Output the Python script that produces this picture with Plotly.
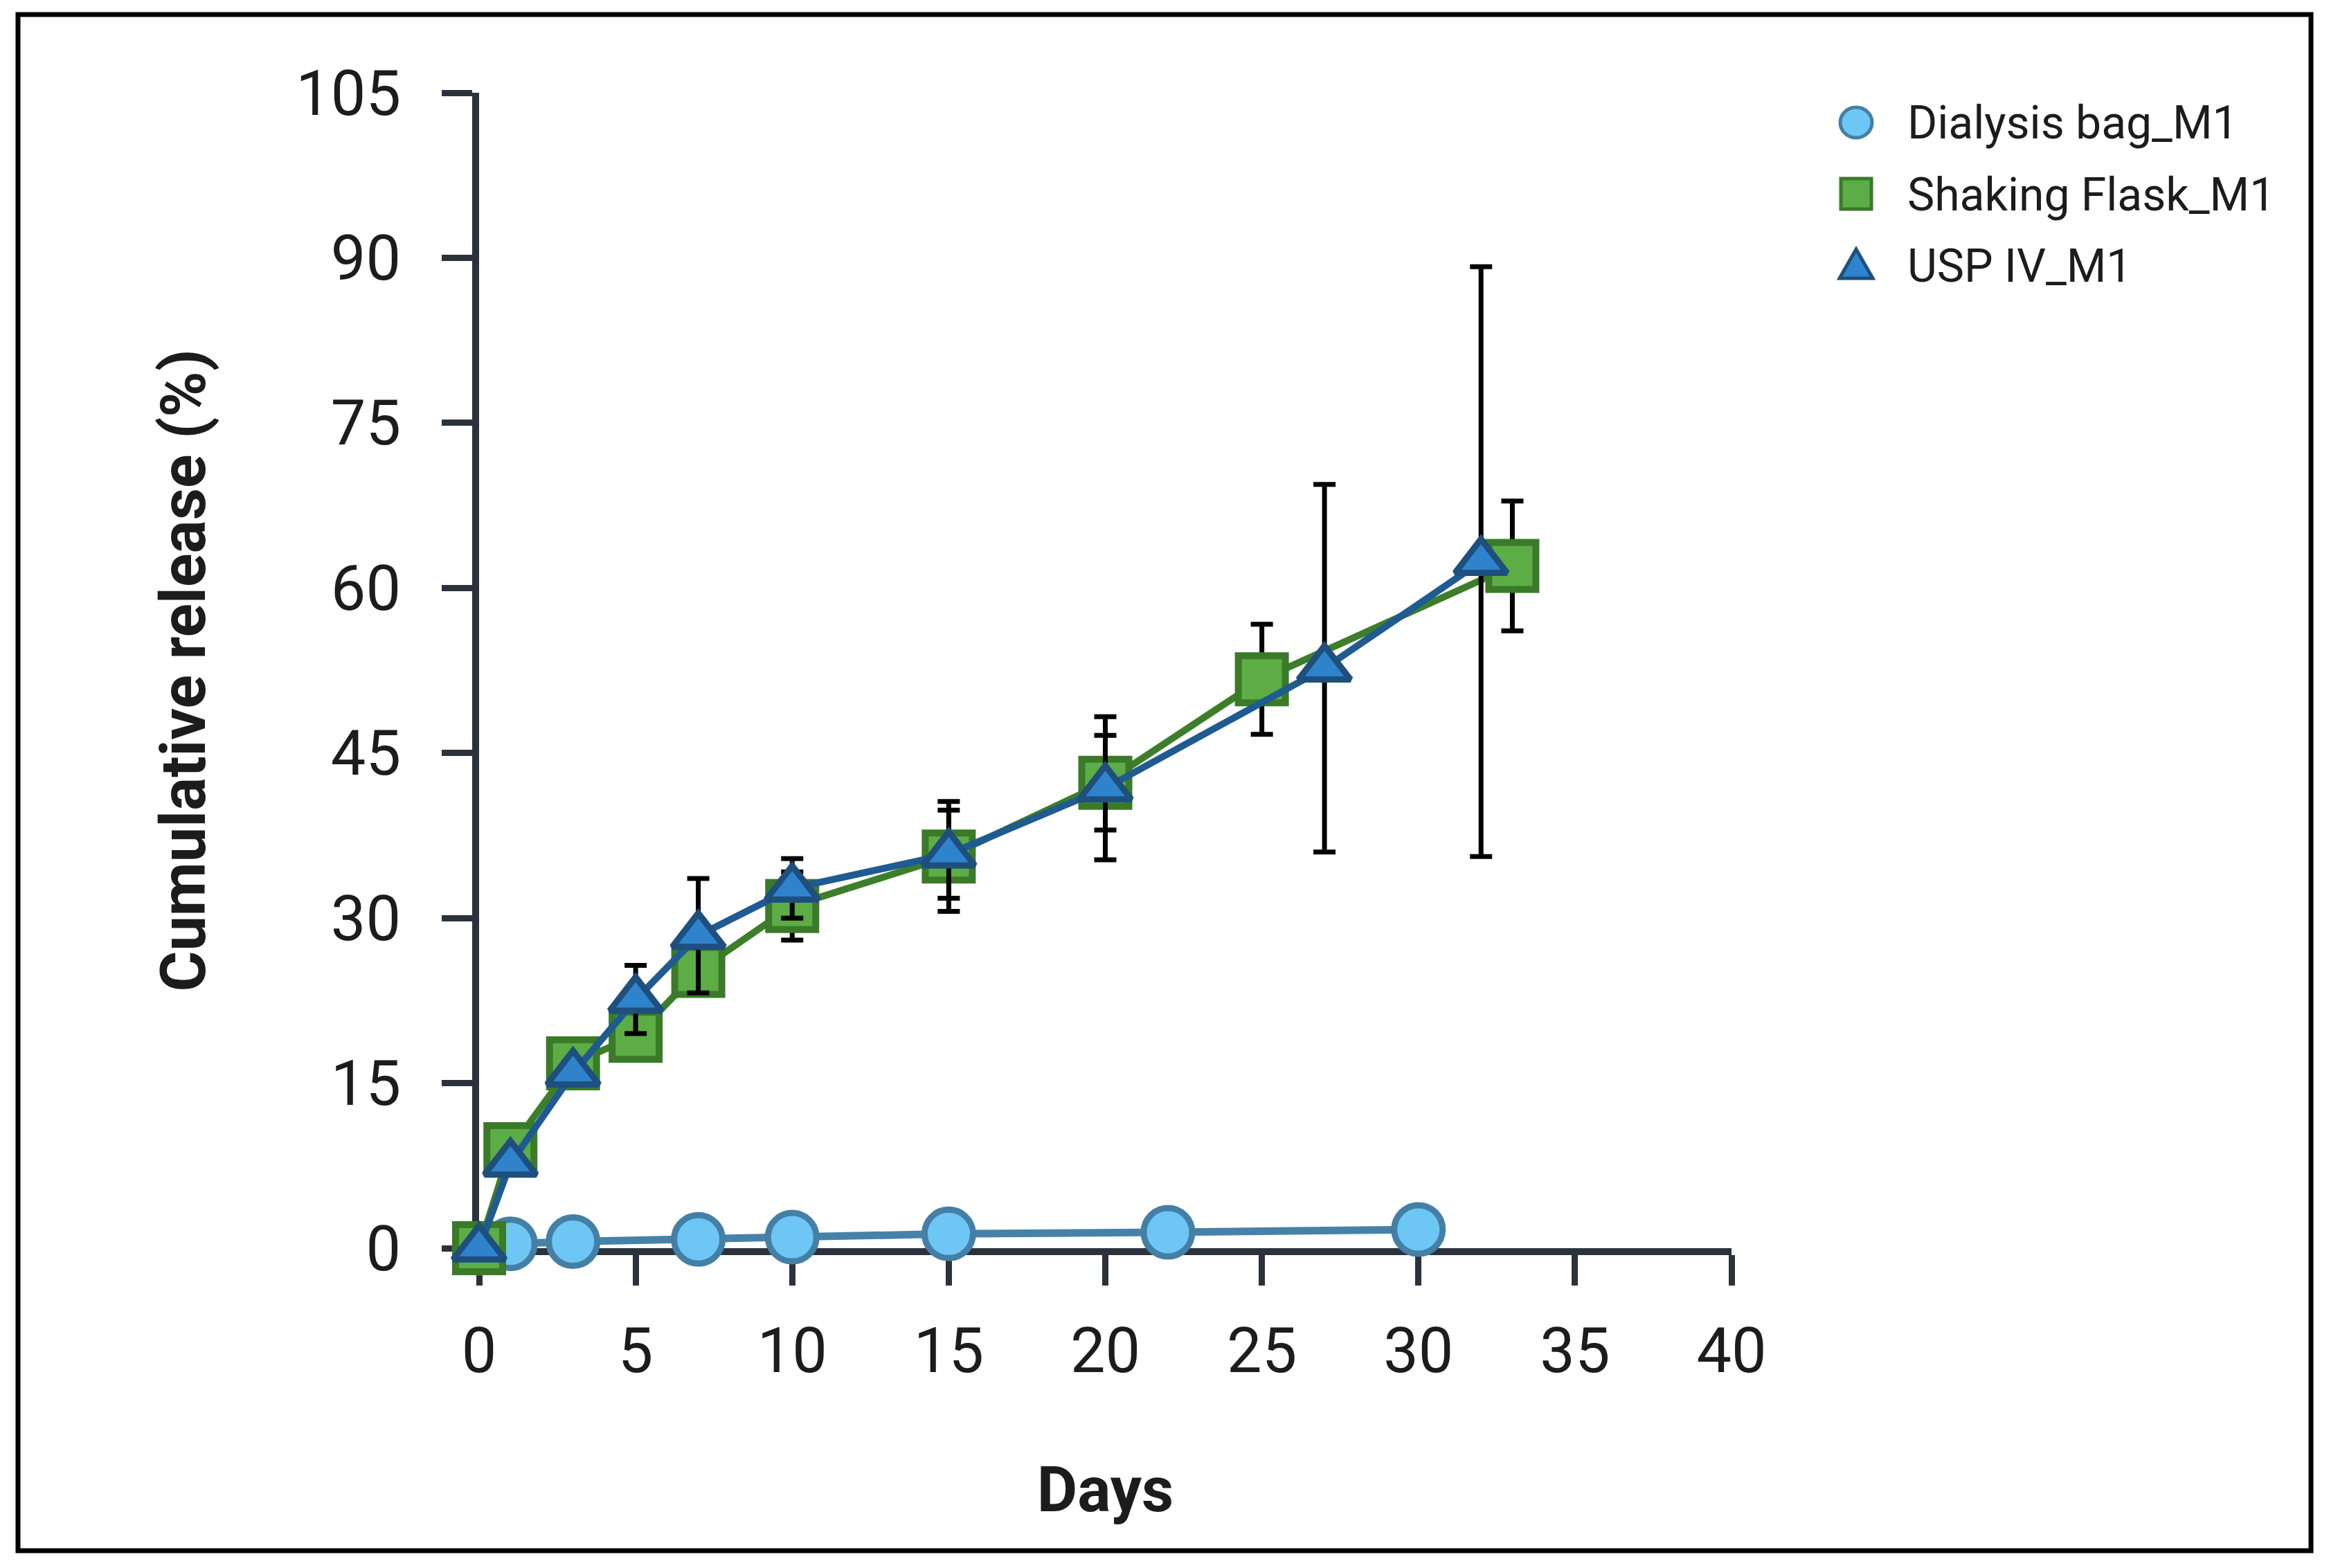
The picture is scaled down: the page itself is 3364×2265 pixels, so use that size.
import plotly.graph_objects as go

# ---------------- data ----------------
dialysis_days = [0, 1, 3, 7, 10, 15, 22, 30]
dialysis_release = [0, 0.4, 0.6, 0.8, 1.0, 1.3, 1.45, 1.7]

flask_days = [0, 1, 3, 5, 7, 10, 15, 20, 25, 33]
flask_release = [0, 9.0, 16.8, 19.3, 25.2, 31.1, 35.6, 42.3, 51.7, 62.0]
flask_sd = [0, 0.5, 1.0, 1.5, 2.0, 3.1, 5.0, 4.3, 5.0, 5.9]

usp_days = [0, 1, 3, 5, 7, 10, 15, 20, 27, 32]
usp_release = [0, 7.7, 15.9, 22.6, 28.4, 32.7, 35.8, 41.8, 52.7, 62.4]
usp_sd = [0, 0.8, 1.0, 3.1, 5.2, 2.7, 4.0, 6.5, 16.7, 26.8]

series_names = ["Dialysis bag_M1", "Shaking Flask_M1", "USP IV_M1"]
x_ticks = [0, 5, 10, 15, 20, 25, 30, 35, 40]
y_ticks = [0, 15, 30, 45, 60, 75, 90, 105]

# ---------------- layout geometry ----------------
# page has an 8 px body margin; figure coordinates = page coordinates - 8
OFF = 8
W, H = 3364 - 2 * OFF, 2265 - 2 * OFF
L, T = 692 - OFF, 134 - OFF
PW = 2501 - 692
PH = 1803 - 134
R = W - L - PW
B = H - T - PH


def px(xp):  # page pixel -> paper x
    return (xp - OFF - L) / PW


def py(yp):  # page pixel -> paper y
    return (T + PH - (yp - OFF)) / PH


FONT = "Roboto"
AXIS_COL = "#2b323c"
TXT = "#1c1c1c"

fig = go.Figure()

fig.add_trace(go.Scatter(
    x=dialysis_days, y=dialysis_release, mode="lines+markers",
    name=series_names[0], cliponaxis=False, showlegend=False,
    line=dict(color="#4781a8", width=11),
    marker=dict(symbol="circle", size=70, color="#6ec6f4",
                line=dict(color="#447fa5", width=9)),
))

fig.add_trace(go.Scatter(
    x=flask_days, y=flask_release, mode="lines+markers",
    name=series_names[1], cliponaxis=False, showlegend=False,
    line=dict(color="#3d7e2a", width=10),
    marker=dict(symbol="square", size=68, color="#5cad45",
                line=dict(color="#3a7a28", width=10)),
    error_y=dict(type="data", array=flask_sd, visible=True,
                 color="#000000", thickness=7, width=16),
))

fig.add_trace(go.Scatter(
    x=usp_days, y=usp_release, mode="lines+markers",
    name=series_names[2], cliponaxis=False, showlegend=False,
    line=dict(color="#1f5b90", width=10),
    marker=dict(symbol="triangle-up", size=65, color="#2f83cc",
                line=dict(color="#1e4f7d", width=9)),
    error_y=dict(type="data", array=usp_sd, visible=True,
                 color="#000000", thickness=7, width=16),
))

# ---------------- custom legend (large symbols) ----------------
shapes = []
rows = [177, 280, 383]
cx = 2681
shapes.append(dict(type="circle", xref="paper", yref="paper",
                   x0=px(cx - 23), x1=px(cx + 23), y0=py(rows[0] + 22), y1=py(rows[0] - 22),
                   fillcolor="#6ec6f4", line=dict(color="#447fa5", width=5)))
shapes.append(dict(type="rect", xref="paper", yref="paper",
                   x0=px(cx - 22), x1=px(cx + 22), y0=py(rows[1] + 22), y1=py(rows[1] - 22),
                   fillcolor="#5cad45", line=dict(color="#3a7a28", width=5)))
tri = "M {:.5f} {:.5f} L {:.5f} {:.5f} L {:.5f} {:.5f} Z".format(
    px(cx), py(rows[2] - 23), px(cx - 24), py(rows[2] + 19), px(cx + 24), py(rows[2] + 19))
shapes.append(dict(type="path", xref="paper", yref="paper", path=tri,
                   fillcolor="#2f83cc", line=dict(color="#1e4f7d", width=5)))

# outer frame
shapes.append(dict(type="rect", xref="paper", yref="paper",
                   x0=px(26), x1=px(3338), y0=py(2240), y1=py(21),
                   line=dict(color="#000000", width=7), fillcolor="rgba(0,0,0,0)"))

annotations = []
for name, r in zip(series_names, rows):
    annotations.append(dict(text=name, xref="paper", yref="paper",
                            x=px(2753), y=py(r + 1), xanchor="left", yanchor="middle",
                            showarrow=False, font=dict(family=FONT, size=66, color=TXT)))

fig.update_layout(
    width=W, height=H,
    margin=dict(l=L, r=R, t=T, b=B, autoexpand=False),
    paper_bgcolor="white", plot_bgcolor="white",
    showlegend=False,
    shapes=shapes, annotations=annotations,
    font=dict(family=FONT, color=TXT),
)

fig.update_xaxes(
    range=[0, 40], tickvals=x_ticks, ticktext=[str(v) for v in x_ticks],
    showgrid=False, zeroline=False, showline=True, linecolor=AXIS_COL, linewidth=10,
    ticks="outside", ticklen=44, tickwidth=9, tickcolor=AXIS_COL,
    tickfont=dict(family=FONT, size=90, color=TXT), ticklabelstandoff=17,
    title=dict(text="<b>Days</b>", font=dict(family=FONT, size=90, color=TXT), standoff=121),
    layer="below traces",
)
fig.update_yaxes(
    range=[0, 105], tickvals=y_ticks, ticktext=[str(v) for v in y_ticks],
    showgrid=False, zeroline=False, showline=True, linecolor=AXIS_COL, linewidth=10,
    ticks="outside", ticklen=44, tickwidth=9, tickcolor=AXIS_COL,
    tickfont=dict(family=FONT, size=90, color=TXT), ticklabelstandoff=41,
    title=dict(text="<b>Cumulative release (%)</b>", font=dict(family=FONT, size=90, color=TXT), standoff=105),
    layer="below traces",
)

fig.write_html("out.html")
